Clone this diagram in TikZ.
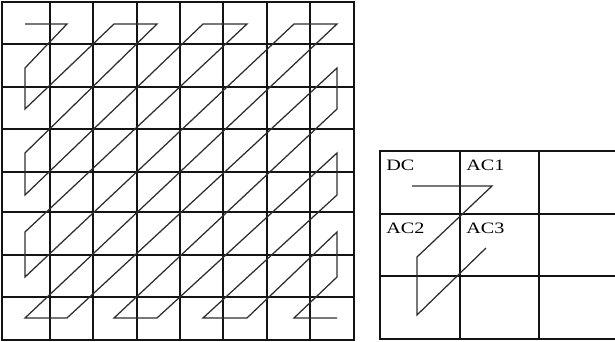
\documentclass[tikz,border=0pt]{standalone}
\usepackage{fontspec}
\setmainfont{Liberation Serif}
\usepackage{graphicx}
\usepackage{tikz}
\usetikzlibrary{positioning}
\definecolor{zink}{HTML}{141414}
\definecolor{zgrey}{HTML}{2E2E2E}

\begin{document}
\begin{tikzpicture}[x=0.75pt,y=-0.75pt,
  frame/.style={zink,line width=2.2pt},
  cell/.style={zink,line width=1.3pt},
  scan/.style={zgrey,line width=0.95pt},
  lbl/.style={inner sep=0pt,anchor=base west,font=\fontsize{11.9}{13}\selectfont}]
  \useasboundingbox (0,0) rectangle (615,342);

  % 8x8 block
  \foreach \x in {50,93.3,136.7,180,223.3,267,310} \draw[cell] (\x,2) -- (\x,340);
  \foreach \y in {44,87,129,172,212,255,297} \draw[cell] (2,\y) -- (354,\y);
  \draw[frame] (2,2) rectangle (354,340);
  \foreach \x [count=\i from 0] in {25,67,114,157,203,247,294,337}
    \foreach \y [count=\j from 0] in {24,68,109,153,195,232,277,318}
      \coordinate (p\i\j) at (\x,\y);
  \draw[scan] (p00) -- (p10) -- (p01) -- (p02) -- (p20) -- (p30) -- (p03) -- (p04)
    -- (p40) -- (p50) -- (p05) -- (p06) -- (p60) -- (p70) -- (p07) -- (p17)
    -- (p71) -- (p72) -- (p27) -- (p37) -- (p73) -- (p74) -- (p47) -- (p57)
    -- (p75) -- (p76) -- (p67) -- (p77);

  % 3x3 block
  \draw[cell] (460,151) -- (460,339);
  \draw[cell] (539,151) -- (539,339);
  \draw[cell] (380,214) -- (615,214);
  \draw[cell] (380,276) -- (615,276);
  \draw[frame,line width=1.8pt] (615,151) -- (380,151) -- (380,339) -- (615,339);
  \node[lbl] (dc) at (386,170.5) {\scalebox{1.27}[1]{DC}};
  \node[lbl] (ac1) at (466,170.5) {\scalebox{1.27}[1]{AC1}};
  \node[lbl] (ac2) at (386,234) {\scalebox{1.27}[1]{AC2}};
  \node[lbl] (ac3) at (466,234) {\scalebox{1.27}[1]{AC3}};
  \coordinate (q0) at (412,186);
  \coordinate (q1) at (492,186);
  \coordinate (q2) at (417,257);
  \coordinate (q3) at (417,315);
  \coordinate (q4) at (486,248);
  \draw[scan] (q0) -- (q1) -- (q2) -- (q3) -- (q4);
\end{tikzpicture}
\end{document}
